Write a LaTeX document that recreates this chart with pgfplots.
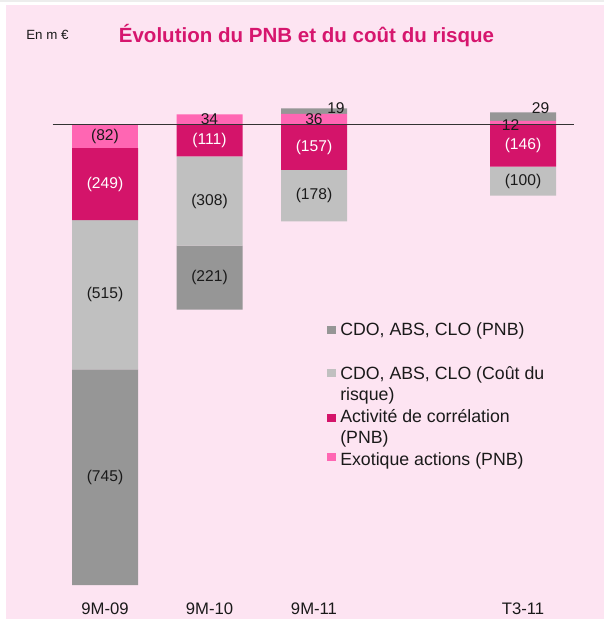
\documentclass[border=0pt]{standalone}
\usepackage{pgfplots}
\pgfplotsset{compat=1.18}
\usepackage{pgfplotstable}
\usepackage{fontspec}
\setmainfont{Liberation Sans}
\definecolor{bgpink}{RGB}{253,228,242}
\definecolor{cdopnb}{RGB}{150,150,150}
\definecolor{cdocr}{RGB}{192,192,192}
\definecolor{corr}{RGB}{212,20,106}
\definecolor{exo}{RGB}{255,102,179}
\definecolor{titlec}{RGB}{214,22,110}
\definecolor{txt}{RGB}{26,26,26}

\pgfplotstableread{
x exo corr cr pnb
0 -82 -249 -515 -745
1 0 -111 -308 -221
2 0 -157 -178 0
4 0 -146 -100 0
}\negdata
\pgfplotstableread{
x exo pnb
0 0 0
1 34 0
2 36 19
4 12 29
}\posdata

\pgfplotsset{base/.style={
  x=78.375pt, y=0.2172pt,
  xmin=-1.00478, xmax=4.77512, ymin=-1708.2, ymax=429.2,
  ybar stacked, bar width=49.5pt,
  axis line style={draw=none}, tick style={draw=none}, ytick=\empty,
  clip=false, anchor=south west, at={(0,0)},
  /pgf/number format/assume math mode=true,
}}
\newcommand{\lab}{\fontsize{11.7}{13}\selectfont}

\begin{document}
\begin{tikzpicture}
\begin{scope}[x=0.75pt,y=-0.75pt,yshift=464.25pt]
  \fill[white] (0,0) rectangle (604,619);
  \fill[black!7] (0,0) rectangle (604,2.5);
  \fill[bgpink] (6,5) rectangle (604,619);
\end{scope}

\begin{axis}[base, xtick=\empty]
  \addplot[fill=exo, draw=none] table[x=x,y=exo]{\negdata};
  \addplot[fill=corr, draw=none] table[x=x,y=corr]{\negdata};
  \addplot[fill=cdocr, draw=none] table[x=x,y=cr]{\negdata};
  \addplot[fill=cdopnb, draw=none] table[x=x,y=pnb]{\negdata};
\end{axis}

\begin{axis}[base, xtick={0,1,2,4},
  xticklabels={9M-09,9M-10,9M-11,T3-11},
  xticklabel style={anchor=base, yshift=3.75pt, font=\fontsize{12.5}{14}\selectfont, text=txt}]
  \addplot[fill=exo, draw=none] table[x=x,y=exo]{\posdata};
  \addplot[fill=cdopnb, draw=none] table[x=x,y=pnb]{\posdata};
\end{axis}

\begin{axis}[base, xtick=\empty]
  \draw[black!80, line width=0.75pt] (axis cs:-0.5,0) -- (axis cs:4.49,0);
  \node[font=\lab, text=txt] at (axis cs:0,-41) {(82)};
  \node[font=\lab, text=white] at (axis cs:0,-206.5) {(249)};
  \node[font=\lab, text=txt] at (axis cs:0,-588.5) {(515)};
  \node[font=\lab, text=txt] at (axis cs:0,-1218.5) {(745)};
  \node[font=\lab, text=txt] at (axis cs:1,17) {34};
  \node[font=\lab, text=white] at (axis cs:1,-55.5) {(111)};
  \node[font=\lab, text=txt] at (axis cs:1,-265) {(308)};
  \node[font=\lab, text=txt] at (axis cs:1,-529.5) {(221)};
  \node[font=\lab, text=txt] at (axis cs:2,18) {36};
  \node[font=\lab, text=txt] at (axis cs:2.21,56) {19};
  \node[font=\lab, text=white] at (axis cs:2,-78.5) {(157)};
  \node[font=\lab, text=txt] at (axis cs:2,-246) {(178)};
  \node[font=\lab, text=txt] at (axis cs:4.169,57) {29};
  \node[font=\lab, text=txt] at (axis cs:3.882,-2.4) {12};
  \node[font=\lab, text=white] at (axis cs:4,-73) {(146)};
  \node[font=\lab, text=txt] at (axis cs:4,-196) {(100)};
\end{axis}

\begin{scope}[x=0.75pt,y=-0.75pt,yshift=464.25pt]
  \node[anchor=base, inner sep=0, font=\fontsize{15.4}{18}\selectfont\bfseries, text=titlec] at (306.5,42.7) {Évolution du PNB et du coût du risque};
  \node[anchor=base west, inner sep=0, font=\fontsize{10}{12}\selectfont, text=txt] at (26,40) {En m €};
  % legend
  \fill[cdopnb] (327,326.5) rectangle (336,334.5);
  \fill[cdocr] (327,369) rectangle (336,377);
  \fill[corr] (327,414) rectangle (336,422);
  \fill[exo] (327,453) rectangle (336,461);
  \begin{scope}[every node/.style={anchor=base west, inner sep=0, font=\fontsize{13.3}{15}\selectfont, text=txt}]
    \node at (340,336) {CDO, ABS, CLO (PNB)};
    \node at (340,379.3) {CDO, ABS, CLO (Coût du};
    \node at (340,400.3) {risque)};
    \node at (340,422.7) {Activité de corrélation};
    \node at (340,443.5) {(PNB)};
    \node at (340,465.7) {Exotique actions (PNB)};
  \end{scope}
\end{scope}
\end{tikzpicture}
\end{document}
